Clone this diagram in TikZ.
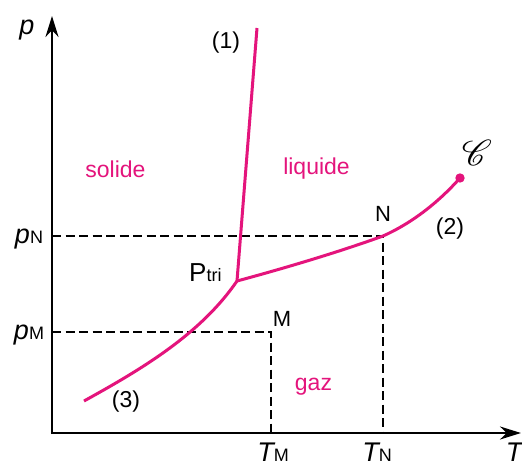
\documentclass[tikz,border=0pt]{standalone}
\usepackage{fontspec}
\setmainfont{Liberation Sans}
\usepackage{mathrsfs}
\usepackage{graphicx}
\usetikzlibrary{arrows.meta,calc}
\definecolor{pinkc}{RGB}{228,20,124}
\newcommand{\bigf}{\fontsize{27}{29}\selectfont}
\newcommand{\subf}{\fontsize{18}{20}\selectfont}
\begin{document}
\begin{tikzpicture}[x=1pt,y=-1pt,
  lbl/.style={font=\fontsize{23}{25}\selectfont, inner sep=0pt},
  phase/.style={lbl, text=pinkc},
  curve/.style={draw=pinkc, line width=3pt},
  axis/.style={line width=2.5pt, -{Stealth[length=21pt,width=13pt]}},
  guide/.style={line width=2.4pt, dash pattern=on 9pt off 4.5pt}]
\useasboundingbox[fill=white] (0,0) rectangle (522,466);
\coordinate (O) at (52,433);
\coordinate (ytip) at (52,16);
\coordinate (xtip) at (521,433);
\coordinate (Pt) at (237,281);
\coordinate (top1) at (257,28);
\coordinate (N) at (383,236);
\coordinate (C) at (460,178);
\coordinate (M) at (271,332);
\coordinate (end3) at (84,401);
\coordinate (pNa) at (52,236);
\coordinate (pMa) at (52,332);
\coordinate (TNa) at (383,433);
\coordinate (TMa) at (271,433);
% guides
\draw[guide] (pNa) -- (N) -- (TNa);
\draw[guide] (pMa) -- (M) -- (TMa);
% axes
\draw[axis] ($(O)+(0,1.2)$) -- (ytip);
\draw[axis] ($(O)+(-1.2,0)$) -- (xtip);
% curves
\draw[curve] (Pt) -- (top1);
\draw[curve] (Pt) .. controls (300,264) and (350,248) .. (N) .. controls (410,224) and (437,204) .. (C);
\draw[curve] (end3) .. controls (140,370) and (200,335) .. (Pt);
\fill[pinkc] (C) circle (4.7);
% labels
\node[lbl, anchor=base, font=\bigf\itshape] (plab) at (27,34) {p};
\node[lbl, anchor=base, font=\bigf\itshape] (Tlab) at (514,461) {T};
\node[lbl, anchor=base] (pN) at (29,243) {\bigf\itshape p\subf\upshape N};
\node[lbl, anchor=base] (pM) at (29,339) {\bigf\itshape p\subf\upshape M};
\node[lbl, anchor=base] (TM) at (273,461) {\bigf\itshape T\subf\upshape M};
\node[lbl, anchor=base] (TN) at (377,461) {\bigf\itshape T\subf\upshape N};
\node[lbl] (l1) at (226,43) {(1)};
\node[lbl] (l2) at (450,229) {(2)};
\node[lbl] (l3) at (126,402) {(3)};
\node[lbl, font=\fontsize{22}{24}\selectfont] (Nl) at (383,214) {N};
\node[lbl, font=\fontsize{22}{24}\selectfont] (Ml) at (282,319) {M};
\node[lbl, anchor=base west] (Ptl) at (189,281) {\fontsize{26}{28}\selectfont P\subf tri};
\node[lbl, font=\fontsize{24}{26}\selectfont] (Cl) at (477,153) {\scalebox{1.45}{$\mathscr{C}$}};
\node[phase] (sol) at (115.5,169) {solide};
\node[phase] (liq) at (316.5,169) {liquide};
\node[phase] (gaz) at (313.5,387) {gaz};
\end{tikzpicture}
\end{document}
